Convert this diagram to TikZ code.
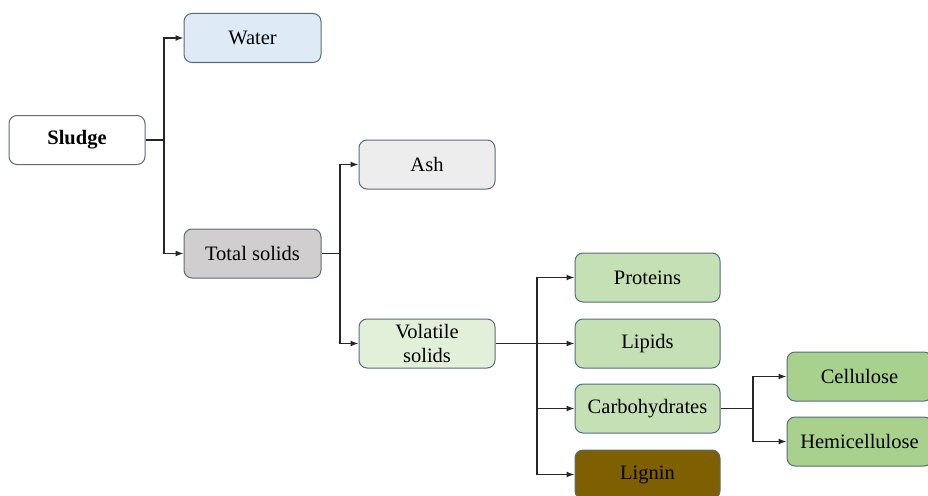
\documentclass[tikz,border=0pt]{standalone}
\usepackage{fontspec}
\setmainfont{Liberation Serif}
\usetikzlibrary{arrows.meta}

\definecolor{boxline}{HTML}{5B6B7C}
\definecolor{waterfill}{HTML}{DEEBF7}
\definecolor{tsfill}{HTML}{D0CECE}
\definecolor{ashfill}{HTML}{EDEDED}
\definecolor{vsfill}{HTML}{E2F0D9}
\definecolor{orgfill}{HTML}{C5E0B4}
\definecolor{fibrefill}{HTML}{A9D18E}
\definecolor{ligninfill}{HTML}{7F6000}

\begin{document}
\begin{tikzpicture}[x=1pt,y=-1pt,
		box/.style={draw=boxline, line width=1pt, rounded corners=8pt, minimum height=49pt,
			inner sep=2pt, align=center, font=\fontsize{20.5}{24}\selectfont},
		link/.style={line width=1.4pt, draw=black!85, -{Latex[length=8pt,width=6pt]}},
		stem/.style={line width=1.4pt, draw=black!85}]
		\useasboundingbox (0,0) rectangle (928,495);

		\node[box, fill=white, minimum width=136pt] (sludge) at (77,140) {\textbf{Sludge}};
		\node[box, fill=waterfill, minimum width=137pt] (water) at (252.5,38) {Water};
		\node[box, fill=tsfill, minimum width=137pt] (tsol) at (252.5,253.5) {Total solids};
		\node[box, fill=ashfill, minimum width=136pt] (ash) at (427,164.5) {Ash};
		\node[box, fill=vsfill, minimum width=136pt] (vsol) at (427,343.5) {Volatile\\solids};

		\node[box, fill=orgfill, minimum width=145pt] (proteins) at (647.5,277.5) {Proteins};
		\node[box, fill=orgfill, minimum width=145pt] (lipids) at (647.5,343.5) {Lipids};
		\node[box, fill=orgfill, minimum width=145pt] (carbo) at (647.5,408.5) {Carbohydrates};
		\node[box, fill=ligninfill, minimum width=145pt] (lignin) at (647.5,474.5) {Lignin};

		\node[box, fill=fibrefill, minimum width=145pt] (cellulose) at (859.5,376.5) {Cellulose};
		\node[box, fill=fibrefill, minimum width=145pt] (hemi) at (859.5,441.5) {Hemicellulose};

		% branch points
		\coordinate (s1) at (164,140);
		\coordinate (t1) at (340,253.5);
		\coordinate (v1) at (537,343.5);
		\coordinate (c1) at (753,408.5);

		\draw[stem] (sludge.east) -- (s1);
		\draw[link] (s1) |- (water.west);
		\draw[link] (s1) |- (tsol.west);

		\draw[stem] (tsol.east) -- (t1);
		\draw[link] (t1) |- (ash.west);
		\draw[link] (t1) |- (vsol.west);

		\draw[link] (vsol.east) -- (lipids.west);
		\draw[link] (v1) |- (proteins.west);
		\draw[link] (v1) |- (carbo.west);
		\draw[link] (v1) |- (lignin.west);

		\draw[stem] (carbo.east) -- (c1);
		\draw[link] (c1) |- (cellulose.west);
		\draw[link] (c1) |- (hemi.west);
	\end{tikzpicture}
\end{document}
